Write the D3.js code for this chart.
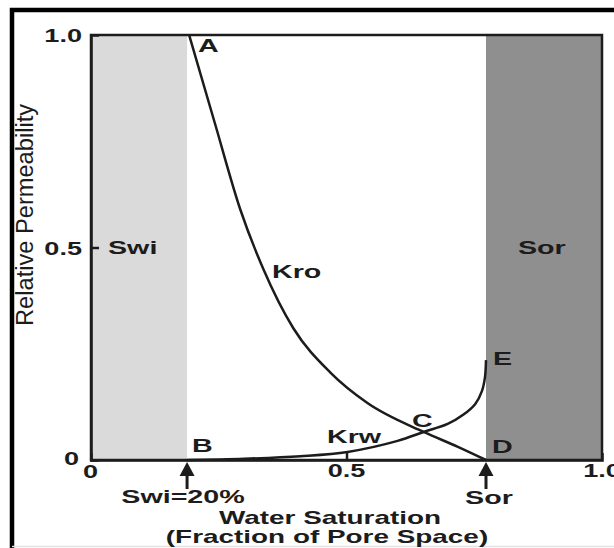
<!DOCTYPE html>
<head>
    <title>Relative permeability curves</title>
</head>
<meta charset="utf-8">

<script src="https://d3js.org/d3.v7.min.js"></script>

<body style="margin:0;background:#fff">
<div id="my_dataviz"></div>
<script>

// saturation end points (fraction of pore space)
var swi = 0.188, sor = 0.773;

// oil relative permeability, A -> D
var kroSw  = [0.192, 0.243, 0.292, 0.337, 0.396, 0.469, 0.541, 0.651, 0.718, 0.773];
var kroVal = [1.0,   0.79,  0.59,  0.45,  0.31,  0.205, 0.134, 0.066, 0.031, 0];

// water relative permeability, B -> E
var krwSw  = [0.188, 0.30,  0.41,  0.502, 0.60,  0.651, 0.698, 0.729, 0.752, 0.765, 0.771, 0.773];
var krwVal = [0,     0.003, 0.009, 0.019, 0.045, 0.066, 0.085, 0.107, 0.132, 0.162, 0.195, 0.235];

var xTicks = [0, 0.5, 1];
var yTicks = [0, 0.5, 1];
var xTickLabels = ["0", "0.5", "1.0"];
var yTickLabels = ["0", "0.5", "1.0"];

var W = 614, H = 548;
var ink = "#1c1c1c";
var sx = 1.55;   // the source lettering is stretched horizontally

var svg = d3.select("#my_dataviz")
  .append("svg")
    .attr("width", W)
    .attr("height", H)
    .style("display", "block");

var x = d3.scaleLinear().domain([0, 1]).range([91, 602]);
var y = d3.scaleLinear().domain([0, 1]).range([460, 35]);

// outer frame (left + top heavy rule)
svg.append("path")
  .attr("d", "M12,548 L12,10 L614,10")
  .style("fill", "none").style("stroke", "#000").style("stroke-width", 4.5);
svg.append("line")
  .attr("x1", 12).attr("x2", 614).attr("y1", 546.5).attr("y2", 546.5)
  .style("stroke", "#e2e2e2").style("stroke-width", 1.5);

// shaded zones
svg.append("rect")
  .attr("x", x(0)).attr("y", y(1))
  .attr("width", x(swi) - x(0)).attr("height", y(0) - y(1))
  .style("fill", "#dadada");
svg.append("rect")
  .attr("x", x(sor)).attr("y", y(1))
  .attr("width", x(1) - x(sor)).attr("height", y(0) - y(1))
  .style("fill", "#8f8f8f");

// plot box
svg.append("rect")
  .attr("x", x(0)).attr("y", y(1))
  .attr("width", x(1) - x(0)).attr("height", y(0) - y(1))
  .style("fill", "none").style("stroke", ink).style("stroke-width", 2.5);

// axes (lines + inward ticks only, labels drawn separately)
var xAxis = svg.append("g")
  .attr("transform", "translate(0," + y(0) + ")")
  .call(d3.axisBottom(x).tickValues([0.5]).tickSize(-7).tickFormat(""));
var yAxis = svg.append("g")
  .attr("transform", "translate(" + x(0) + ",0)")
  .call(d3.axisLeft(y).tickValues([0.5]).tickSize(-8).tickFormat(""));
[xAxis, yAxis].forEach(function(a) {
  a.selectAll("path, line").style("stroke", ink).style("stroke-width", 2.5);
});

function label(txt, px, py, anchor, size) {
  return svg.append("text")
    .attr("transform", "translate(" + px + "," + py + ") scale(" + sx + ",1)")
    .attr("text-anchor", anchor || "start")
    .style("font-family", "'Liberation Sans', Arial, sans-serif")
    .style("font-weight", "bold")
    .style("font-size", (size || 18.5) + "px")
    .style("fill", ink)
    .text(txt);
}

// tick labels
yTicks.forEach(function(v, i) {
  if (v === 0) label(yTickLabels[i], 79, y(v) + 5, "end", 17.5);
  else label(yTickLabels[i], 82, y(v) + 7, "end", 17.5);
});
xTicks.forEach(function(v, i) {
  if (v === 0) label(xTickLabels[i], x(v) - 0.5, 478, "middle", 17.5);
  else label(xTickLabels[i], x(v), 477, "middle", 17.5);
});

// curves
var kro = kroSw.map(function(s, i) { return [s, kroVal[i]]; });
var krw = krwSw.map(function(s, i) { return [s, krwVal[i]]; });

var kroLine = d3.line().curve(d3.curveMonotoneX)
  .x(function(d) { return x(d[0]); })
  .y(function(d) { return y(d[1]); });
var krwLine = d3.line().curve(d3.curveCatmullRom.alpha(0.5))
  .x(function(d) { return x(d[0]); })
  .y(function(d) { return y(d[1]); });

svg.append("path").datum(kro)
  .attr("d", kroLine)
  .style("fill", "none").style("stroke", ink).style("stroke-width", 2.5);
svg.append("path").datum(krw)
  .attr("d", krwLine)
  .style("fill", "none").style("stroke", ink).style("stroke-width", 2.5);

// point and curve labels
label("A", 198, 52);
label("B", 192, 452);
label("C", 412, 427);
label("D", 492, 453);
label("E", 493, 365);
label("Kro", 272, 278);
label("Krw", 327, 443);
label("Swi", 108, 254);
label("Sor", 518, 254);

// arrows under the axis
[swi, sor].forEach(function(s) {
  var cx = x(s);
  svg.append("path")
    .attr("d", "M" + cx + ",462 L" + (cx - 7.5) + ",476 L" + (cx + 7.5) + ",476 Z")
    .style("fill", ink);
  svg.append("line")
    .attr("x1", cx).attr("x2", cx).attr("y1", 474).attr("y2", 489)
    .style("stroke", ink).style("stroke-width", 3);
});
label("Swi=20%", 183, 503, "middle");
label("Sor", 489, 504, "middle");

// axis titles
label("Water Saturation", 330, 524, "middle", 18);
label("(Fraction of Pore Space)", 327, 543, "middle", 18);

svg.append("text")
  .attr("transform", "translate(33,215) scale(1.5,1) rotate(-90)")
  .attr("text-anchor", "middle")
  .attr("textLength", 222)
  .attr("lengthAdjust", "spacingAndGlyphs")
  .style("font-family", "'Liberation Sans Narrow', 'Liberation Sans', Arial, sans-serif")
  .style("font-size", "16px")
  .style("fill", ink)
  .text("Relative Permeability");

</script>
</body>
